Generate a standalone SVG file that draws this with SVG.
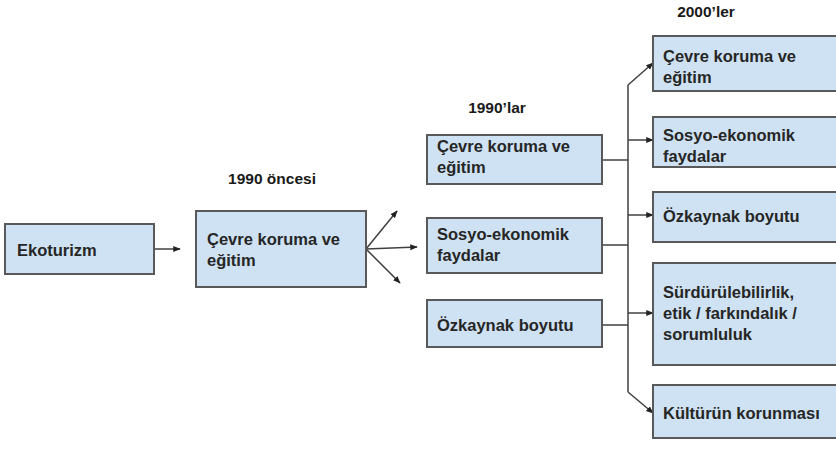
<svg xmlns="http://www.w3.org/2000/svg" width="836" height="449" viewBox="0 0 836 449">
<style>
.box{fill:#cfe2f3;stroke:#595959;stroke-width:2}
.t{font-family:"Liberation Sans",Arial,sans-serif;font-weight:bold;font-size:16.5px;fill:#262626}
.h{font-family:"Liberation Sans",Arial,sans-serif;font-weight:bold;font-size:15.5px;fill:#1a1a1a;text-anchor:middle}
.c{fill:none;stroke:#404040;stroke-width:1.5}
</style>
<defs>
<marker id="ah" viewBox="0 0 10 10" refX="9" refY="5" markerWidth="5" markerHeight="5" orient="auto" markerUnits="strokeWidth">
<path d="M0,1 L10,5 L0,9 z" fill="#222"/>
</marker>
</defs>
<rect width="836" height="449" fill="#ffffff"/>
<g id="labels">
<text class="h" x="272" y="184">1990 öncesi</text>
<text class="h" x="497" y="113">1990’lar</text>
<text class="h" x="706" y="17">2000’ler</text>
</g>
<g id="connectors">
<line class="c" x1="155" y1="249" x2="180" y2="249" marker-end="url(#ah)"/>
<line class="c" x1="366" y1="249" x2="397" y2="211" marker-end="url(#ah)"/>
<line class="c" x1="366" y1="249" x2="417" y2="247" marker-end="url(#ah)"/>
<line class="c" x1="366" y1="249" x2="400" y2="283" marker-end="url(#ah)"/>
<line class="c" x1="602" y1="160" x2="628" y2="160"/>
<line class="c" x1="602" y1="245" x2="628" y2="245"/>
<line class="c" x1="602" y1="325" x2="628" y2="325"/>
<line class="c" x1="628" y1="85" x2="628" y2="392"/>
<line class="c" x1="628" y1="85" x2="653" y2="63" marker-end="url(#ah)"/>
<line class="c" x1="628" y1="140" x2="653" y2="140" marker-end="url(#ah)"/>
<line class="c" x1="628" y1="215" x2="653" y2="215" marker-end="url(#ah)"/>
<line class="c" x1="628" y1="313" x2="653" y2="313" marker-end="url(#ah)"/>
<line class="c" x1="628" y1="392" x2="653" y2="413" marker-end="url(#ah)"/>
</g>
<g id="n-ekoturizm">
<rect class="box" x="5" y="224" width="149" height="50"/>
<text class="t" x="17" y="256">Ekoturizm</text>
</g>
<g id="n-cevre-1990oncesi">
<rect class="box" x="196" y="211" width="170" height="76"/>
<text class="t" x="207" y="245">Çevre koruma ve</text>
<text class="t" x="207" y="266">eğitim</text>
</g>
<g id="n-cevre-1990">
<rect class="box" x="427" y="135" width="175" height="49"/>
<text class="t" x="437" y="152">Çevre koruma ve</text>
<text class="t" x="437" y="173">eğitim</text>
</g>
<g id="n-sosyo-1990">
<rect class="box" x="427" y="218" width="175" height="55"/>
<text class="t" x="437" y="240">Sosyo-ekonomik</text>
<text class="t" x="437" y="261">faydalar</text>
</g>
<g id="n-ozkaynak-1990">
<rect class="box" x="427" y="300" width="175" height="47"/>
<text class="t" x="437" y="331">Özkaynak boyutu</text>
</g>
<g id="n-cevre-2000">
<rect class="box" x="653" y="36" width="190" height="55"/>
<text class="t" x="663" y="62">Çevre koruma ve</text>
<text class="t" x="663" y="83">eğitim</text>
</g>
<g id="n-sosyo-2000">
<rect class="box" x="653" y="117" width="190" height="50"/>
<text class="t" x="663" y="141">Sosyo-ekonomik</text>
<text class="t" x="663" y="162">faydalar</text>
</g>
<g id="n-ozkaynak-2000">
<rect class="box" x="653" y="192" width="190" height="50"/>
<text class="t" x="663" y="222">Özkaynak boyutu</text>
</g>
<g id="n-surdurulebilirlik-2000">
<rect class="box" x="653" y="263" width="190" height="102"/>
<text class="t" x="663" y="298">Sürdürülebilirlik,</text>
<text class="t" x="663" y="319">etik / farkındalık /</text>
<text class="t" x="663" y="340">sorumluluk</text>
</g>
<g id="n-kultur-2000">
<rect class="box" x="653" y="385" width="190" height="53"/>
<text class="t" x="663" y="419">Kültürün korunması</text>
</g>
</svg>
